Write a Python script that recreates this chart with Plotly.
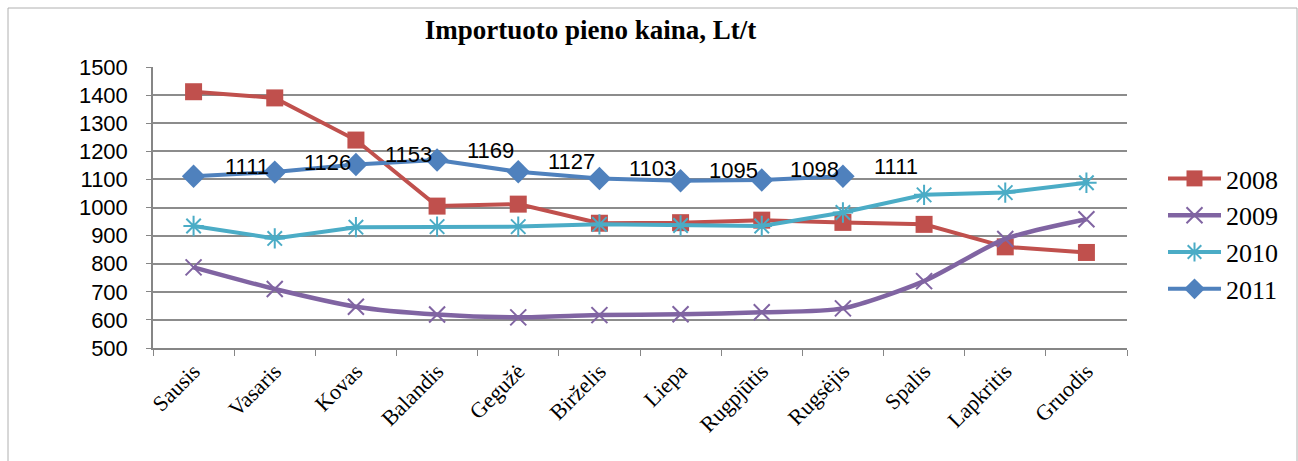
import plotly.graph_objects as go

months = ["Sausis", "Vasaris", "Kovas", "Balandis", "Gegužė", "Birželis",
          "Liepa", "Rugpjūtis", "Rugsėjis", "Spalis", "Lapkritis", "Gruodis"]
v2008 = [1412, 1390, 1240, 1005, 1012, 944, 946, 955, 947, 940, 860, 840]
v2009 = [787, 710, 647, 619, 609, 617, 620, 627, 641, 738, 888, 958]
v2010 = [934, 890, 930, 932, 932, 940, 936, 934, 982, 1045, 1053, 1088]
v2011 = [1111, 1126, 1153, 1169, 1127, 1103, 1095, 1098, 1111]
title_text = "Importuoto pieno kaina, Lt/t"

fig = go.Figure()
fig.add_trace(go.Scatter(x=months, y=v2008, name="2008", mode="lines+markers",
                         line=dict(color="#C0504D", width=4),
                         marker=dict(symbol="square", size=17, color="#C0504D")))
fig.add_trace(go.Scatter(x=months, y=v2009, name="2009", mode="lines+markers",
                         line=dict(color="#8064A2", width=4.5, shape="spline", smoothing=0.7),
                         marker=dict(symbol="x-thin", size=16, color="#8064A2",
                                     line=dict(color="#8064A2", width=2))))
fig.add_trace(go.Scatter(x=months, y=v2010, name="2010", mode="lines+markers",
                         line=dict(color="#4BACC6", width=4),
                         marker=dict(symbol="asterisk", size=17, color="#4BACC6",
                                     line=dict(color="#4BACC6", width=2))))
fig.add_trace(go.Scatter(x=months[:len(v2011)], y=v2011, name="2011", mode="lines+markers",
                         line=dict(color="#4F81BD", width=4),
                         marker=dict(symbol="diamond", size=18, color="#4F81BD")))

for m, v in zip(months, v2011):
    fig.add_annotation(x=m, y=v, text=str(v), showarrow=False,
                       xshift=53, yshift=10,
                       font=dict(family="Liberation Sans", size=22, color="#000"))

fig.update_layout(
    width=1298, height=461,
    margin=dict(l=153, r=171, t=67, b=113, autoexpand=False),
    paper_bgcolor="white", plot_bgcolor="white",
    title=dict(text="<b>" + title_text + "</b>", x=0.455, xref="container", xanchor="center",
               y=0.935, yref="container", yanchor="middle",
               font=dict(family="Liberation Serif", size=27, color="#000")),
    legend=dict(xref="container", yref="container", x=1163 / 1298, xanchor="left",
                y=1 - 155 / 461, yanchor="top",
                font=dict(family="Liberation Serif", size=26, color="#000"),
                itemwidth=53, tracegroupgap=0, bgcolor="rgba(0,0,0,0)"),
    showlegend=True,
)
fig.update_xaxes(type="category", categoryorder="array", categoryarray=months,
                 range=[-0.5, len(months) - 0.5], autorange=False,
                 tickangle=-45, tickson="boundaries", ticks="outside", ticklen=6,
                 tickcolor="#868686", showline=True, linecolor="#868686", linewidth=1.5,
                 showgrid=False, automargin=False,
                 tickfont=dict(family="Liberation Serif", size=22, color="#000"))
fig.update_yaxes(range=[500, 1500], dtick=100, ticks="outside", ticklen=5,
                 tickcolor="#868686", showline=True, linecolor="#868686", linewidth=1.5,
                 showgrid=True, gridcolor="#8c8c8c", gridwidth=1.5, zeroline=False,
                 automargin=False, ticklabelstandoff=14,
                 tickfont=dict(family="Liberation Sans", size=22, color="#000"))

fig.add_shape(type="rect", xref="paper", yref="paper",
              x0=(8 - 153) / 974, x1=(1297 - 153) / 974,
              y0=(348 - 480) / 281, y1=(348 - 8) / 281,
              line=dict(color="#b0b0b0", width=1), fillcolor="rgba(0,0,0,0)", layer="below")

fig.write_html("out.html", config={"displayModeBar": False},
               post_script="document.body.style.margin='0';document.body.style.overflow='hidden';")
